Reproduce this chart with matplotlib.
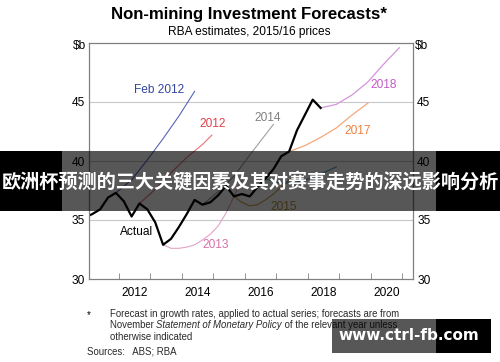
import matplotlib
matplotlib.use('Agg')
import matplotlib.pyplot as plt
from matplotlib.patches import Rectangle

plt.rcParams['font.family'] = ['Liberation Sans', 'DejaVu Sans']

# D A T A ----------------------------------------------------------
actual_x = [2010.90, 2011.15, 2011.40, 2011.65, 2011.90, 2012.15, 2012.40, 2012.65,
            2012.90, 2013.15, 2013.40, 2013.65, 2013.90, 2014.15, 2014.40, 2014.65,
            2014.90, 2015.15, 2015.40, 2015.65, 2015.90, 2016.15, 2016.40, 2016.65,
            2016.90, 2017.15, 2017.40, 2017.65, 2017.90, 2018.15, 2018.40]
actual_y = [35.2, 35.5, 35.9, 36.9, 37.3, 36.6, 35.3, 36.4,
            35.9, 34.8, 32.9, 33.4, 34.4, 35.5, 36.7, 36.3,
            36.5, 37.1, 37.9, 37.0, 37.2, 37.0, 37.8, 38.5,
            39.3, 40.4, 40.8, 42.6, 43.9, 45.2, 44.5]

feb2012_x = [2011.90, 2012.40, 2012.90, 2013.40, 2013.90, 2014.40]
feb2012_y = [37.3, 38.4, 40.1, 41.9, 43.8, 45.9]

f2012_x = [2012.65, 2013.15, 2013.65, 2014.15, 2014.65, 2014.95]
f2012_y = [36.4, 37.6, 39.0, 40.3, 41.4, 42.2]

f2013_x = [2013.40, 2013.65, 2013.90, 2014.15, 2014.40, 2014.65, 2014.90, 2015.15, 2015.40, 2015.65, 2015.90]
f2013_y = [32.9, 32.6, 32.6, 32.7, 32.9, 33.3, 33.8, 34.5, 35.6, 37.0, 38.4]

f2014_x = [2014.65, 2015.15, 2015.65, 2016.15, 2016.90]
f2014_y = [36.3, 37.4, 38.7, 40.5, 43.1]

f2015_x = [2015.65, 2015.90, 2016.15, 2016.40, 2016.65, 2016.90, 2017.15, 2017.40]
f2015_y = [37.0, 36.5, 36.2, 36.3, 36.7, 37.2, 37.8, 38.4]

f2016_x = [2016.65, 2017.15, 2017.65, 2018.15, 2018.90]
f2016_y = [38.5, 38.1, 38.2, 38.6, 39.5]

f2017_x = [2017.40, 2017.90, 2018.40, 2018.90, 2019.40, 2019.90]
f2017_y = [40.8, 41.3, 42.0, 42.8, 43.9, 44.9]

f2018_x = [2018.40, 2018.90, 2019.40, 2019.90, 2020.40, 2020.90]
f2018_y = [44.5, 44.8, 45.6, 46.7, 48.2, 49.6]

year_ticks = [2012, 2014, 2016, 2018, 2020]
y_ticks = [30, 35, 40, 45]

W, H = 500, 362


def fx(px):
    return px / W


def fy(py):
    return 1 - py / H


def dx(px):
    # pixel column -> year
    return 2012 + (px - 119) / 31.5


def dy(py):
    # pixel row -> $b
    return 30 + (279 - py) / 11.8


# F I G U R E ------------------------------------------------------
fig = plt.figure(figsize=(5, 3.62), dpi=100)
ax = fig.add_axes([fx(89), fy(279), fx(413) - fx(89), fy(43) - fy(279)])

ax.set_xlim(dx(89), dx(413))
ax.set_ylim(30, 50)

for v in [35, 40, 45]:
    ax.axhline(v, color='#c8c8c8', lw=0.8, zorder=0)

ax.plot(feb2012_x, feb2012_y, color='#5566b8', lw=0.8)
ax.plot(f2012_x, f2012_y, color='#e8707a', lw=0.8)
ax.plot(f2013_x, f2013_y, color='#e4a3c6', lw=0.8)
ax.plot(f2014_x, f2014_y, color='#a0a0a0', lw=0.8)
ax.plot(f2015_x, f2015_y, color='#c9a24e', lw=0.8)
ax.plot(f2016_x, f2016_y, color='#5a9cc8', lw=0.8)
ax.plot(f2017_x, f2017_y, color='#f4a77a', lw=0.9)
ax.plot(f2018_x, f2018_y, color='#d494dc', lw=0.9)
ax.plot(actual_x, actual_y, color='black', lw=1.6)

lab = dict(fontsize=8.6, ha='center', va='center')
ax.text(dx(159), dy(90), 'Feb 2012', color='#3445a0', **lab)
ax.text(dx(213), dy(124), '2012', color='#e0404c', **lab)
ax.text(dx(268), dy(118), '2014', color='#808080', **lab)
ax.text(dx(384), dy(85), '2018', color='#c45ac8', **lab)
ax.text(dx(358), dy(131), '2017', color='#ef8040', **lab)
ax.text(dx(284), dy(207), '2015', color='#b8923a', **lab)
ax.text(dx(137), dy(232), 'Actual', color='black', **lab)
ax.text(dx(216), dy(245), '2013', color='#d870a8', **lab)

for s in ax.spines.values():
    s.set_color('#808080')
    s.set_linewidth(0.9)

# x axis: labels centred on the year, small ticks at year boundaries
ax.set_xticks([y + 0.5 for y in year_ticks])
ax.set_xticklabels([str(y) for y in year_ticks], fontsize=8.6)
ax.set_xticks(list(range(2012, 2022)), minor=True)
ax.tick_params(axis='x', which='major', length=0, pad=6)
ax.tick_params(axis='x', which='minor', direction='in', length=4, color='#808080')

ax.set_yticks(y_ticks)
ax.set_yticklabels([str(v) for v in y_ticks], fontsize=8.6)
ax.tick_params(axis='y', length=0, pad=3, labelright=True, right=False)

fig.text(fx(86), fy(46), '$b', fontsize=8.6, ha='right', va='center')
fig.text(fx(415), fy(46), '$b', fontsize=8.6, ha='left', va='center')

fig.text(0.498, fy(14), 'Non-mining Investment Forecasts*', fontsize=12.1,
         fontweight='bold', ha='center', va='center')
fig.text(0.498, fy(32), 'RBA estimates, 2015/16 prices', fontsize=8.6,
         ha='center', va='center')

# F O O T N O T E S ------------------------------------------------
fs = 6.9
col = '#2a2a2a'
fig.text(fx(87), fy(315), '*', fontsize=fs, ha='left', va='center')
fig.text(fx(110), fy(314), 'Forecast in growth rates, applied to actual series; forecasts are from',
         fontsize=fs, ha='left', va='center', color=col)
t1 = fig.text(fx(110), fy(325.5), 'November ', fontsize=fs, ha='left', va='center', color=col)
fig.canvas.draw()
r = fig.canvas.get_renderer()
x1 = t1.get_window_extent(r).x1
t2 = fig.text(x1 / W, fy(325.5), 'Statement of Monetary Policy', fontsize=fs, style='italic',
              ha='left', va='center', color=col)
x2 = t2.get_window_extent(r).x1
fig.text(x2 / W, fy(325.5), ' of the relevant year unless', fontsize=fs, ha='left', va='center',
         color=col)
fig.text(fx(110), fy(337), 'otherwise indicated', fontsize=fs, ha='left', va='center', color=col)
fig.text(fx(87), fy(351), 'Sources:   ABS; RBA', fontsize=fs, ha='left', va='center', color=col)

# O V E R L A Y S --------------------------------------------------
fig.add_artist(Rectangle((0, fy(211)), fx(62), fy(151) - fy(211), transform=fig.transFigure,
                         color='black', lw=0, zorder=5))
fig.add_artist(Rectangle((fx(436), fy(211)), 1 - fx(436), fy(151) - fy(211), transform=fig.transFigure,
                         color='black', lw=0, zorder=5))
fig.add_artist(Rectangle((fx(62), fy(211)), fx(436) - fx(62), fy(151) - fy(211), transform=fig.transFigure,
                         color='black', alpha=0.66, lw=0, zorder=5))
fig.text(0.5, fy(181), '欧洲杯预测的三大关键因素及其对赛事走势的深远影响分析', fontsize=13.8,
         fontweight='bold', color='white', ha='center', va='center', zorder=6,
         family=['Noto Sans CJK SC', 'DejaVu Sans'])

fig.add_artist(Rectangle((fx(332), fy(353)), fx(436) - fx(332), fy(319) - fy(353), transform=fig.transFigure,
                         color='black', alpha=0.66, lw=0, zorder=5))
fig.add_artist(Rectangle((fx(436), fy(353)), fx(491) - fx(436), fy(319) - fy(353), transform=fig.transFigure,
                         color='black', lw=0, zorder=5))
fig.text(fx(409), fy(336), 'www.ctrl-fb.com', fontsize=11, fontweight='bold', color='white',
         ha='center', va='center', zorder=6, family=['DejaVu Sans'])

fig.savefig('out.png', dpi=100)
